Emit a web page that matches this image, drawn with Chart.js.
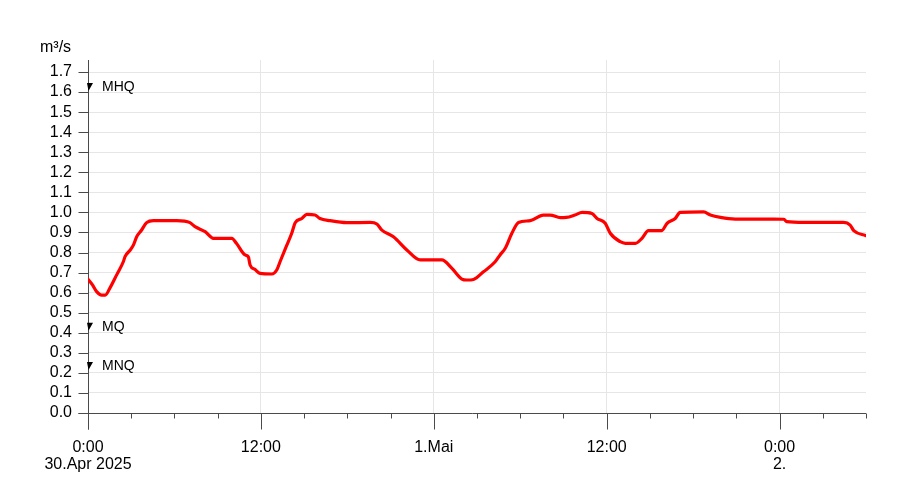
<!DOCTYPE html>
<html><head><meta charset="utf-8">
<script src="https://cdn.jsdelivr.net/npm/chart.js@4"></script>
<style>html,body{margin:0;padding:0;background:#fff}canvas{display:block}</style>
</head><body>
<canvas id="c" width="900" height="496"></canvas>
<script>
// hours since 30.Apr 2025 0:00
const hours = [0,0.3,0.6,0.95,1.2,1.5,2.0,2.45,2.57,2.9,3.15,3.38,3.7,4.07,4.54,6.16,7.08,7.43,8.13,8.7,9.98,10.3,10.9,11.13,11.25,11.6,11.94,12.76,13.1,13.33,13.7,14.14,14.38,14.84,15.19,15.76,16.1,16.8,17.96,19.58,20.05,20.4,21.2,22.13,23.06,24.56,25.26,25.95,26.3,26.76,27.45,28.26,28.6,28.96,29.42,29.88,30.7,31.6,32.08,32.78,33.2,33.8,34.3,34.98,35.33,35.9,36.25,36.94,37.3,38.0,38.45,38.9,39.8,40.2,40.76,41.1,42.73,43.2,43.9,44.93,47.6,48.3,48.5,49.7,52.45,52.9,53.15,54.0];
const flow = [0.667,0.64,0.605,0.588,0.588,0.62,0.69,0.754,0.78,0.81,0.837,0.879,0.91,0.949,0.959,0.959,0.949,0.929,0.904,0.871,0.871,0.846,0.788,0.779,0.738,0.715,0.696,0.693,0.713,0.754,0.82,0.896,0.949,0.97,0.99,0.987,0.97,0.959,0.949,0.95,0.942,0.912,0.879,0.813,0.763,0.763,0.721,0.668,0.663,0.666,0.704,0.754,0.788,0.821,0.896,0.95,0.959,0.987,0.987,0.974,0.975,0.987,1.0,0.995,0.97,0.946,0.896,0.854,0.846,0.846,0.871,0.909,0.909,0.946,0.97,1.0,1.003,0.987,0.975,0.967,0.967,0.966,0.954,0.95,0.95,0.937,0.909,0.884];
const xTickHours = [0,12,24,36,48];
const xTickLabels = [['0:00','30.Apr 2025'],'12:00','1.Mai','12:00',['0:00','2.']];
const yTicks = [0,0.1,0.2,0.3,0.4,0.5,0.6,0.7,0.8,0.9,1.0,1.1,1.2,1.3,1.4,1.5,1.6,1.7];
const markerNames = ['MHQ','MQ','MNQ'];
const markerValues = [1.605,0.41,0.214];
const yUnit = 'm³/s';

const FONT = '"Liberation Sans", Arial, Helvetica, sans-serif';
Chart.defaults.font.family = FONT;
Chart.defaults.color = '#000';

function seg(ctx,x1,y1,x2,y2){ctx.beginPath();ctx.moveTo(x1,y1);ctx.lineTo(x2,y2);ctx.stroke();}

const axesPlugin = {
  id:'axesCustom',
  beforeDatasetsDraw(chart){
    const {ctx, chartArea:a, scales:{x,y}} = chart;
    ctx.save();
    ctx.strokeStyle='#4a4a4a'; ctx.lineWidth=1;
    const x0 = Math.round(x.getPixelForValue(0))+0.5;
    const y0 = Math.round(y.getPixelForValue(0))+0.5;
    seg(ctx,x0,a.top,x0,y0+16);
    seg(ctx,x0-10,y0,a.right,y0);
    y.ticks.forEach(t=>{const py=Math.round(y.getPixelForValue(t.value))+0.5; seg(ctx,x0-10,py,x0,py);});
    x.ticks.forEach(t=>{const px=Math.round(x.getPixelForValue(t.value))+0.5; const len = (Math.round(t.value)%12===0)?16:5; seg(ctx,px,y0,px,y0+len);});
    ctx.restore();
  },
  afterDraw(chart){
    const {ctx, scales:{x,y}} = chart;
    ctx.save();
    const x0 = x.getPixelForValue(0);
    ctx.fillStyle='#000';
    ctx.font='14px '+FONT;
    ctx.textBaseline='middle';
    ctx.textAlign='left';
    markerNames.forEach((n,i)=>{
      const py = y.getPixelForValue(markerValues[i]);
      ctx.beginPath();
      ctx.moveTo(x0-1,py-8);ctx.lineTo(x0+5,py-8);ctx.lineTo(x0+0.5,py);ctx.closePath();ctx.fill();
      ctx.fillText(n,x0+14,py-4);
    });
    ctx.font='16px '+FONT;
    ctx.fillText(yUnit,40,48);
    ctx.restore();
  }
};

new Chart(document.getElementById('c'),{
  type:'line',
  data:{datasets:[{
    data: hours.map((h,i)=>({x:h,y:flow[i]})),
    borderColor:'#ff0000', borderWidth:3.2, pointRadius:0, cubicInterpolationMode:'monotone', fill:false,
    borderJoinStyle:'round', borderCapStyle:'round'
  }]},
  options:{
    responsive:false, animation:false, events:[],
    layout:{padding:{top:60,right:34,left:0,bottom:0}},
    plugins:{legend:{display:false},tooltip:{enabled:false}},
    scales:{
      x:{
        type:'linear', min:0, max:54,
        afterFit:s=>{s.height=83;},
        border:{display:false},
        grid:{drawTicks:true,tickLength:15,tickColor:'transparent',
          color:c=> (c.tick && xTickHours.includes(Math.round(c.tick.value)) && c.tick.value>0) ? '#e6e6e6' : 'transparent'},
        ticks:{stepSize:3, autoSkip:false, maxRotation:0, padding:11,
          font:{size:16,lineHeight:1.05}, color:'#000',
          callback:v=>{const i=xTickHours.indexOf(Math.round(v)); return i>=0?xTickLabels[i]:'';}}
      },
      y:{
        type:'linear', min:0, max:1.76,
        afterFit:s=>{s.width=88;},
        afterBuildTicks:s=>{s.ticks=yTicks.map(v=>({value:v}));},
        border:{display:false},
        grid:{drawTicks:true,tickLength:10,tickColor:'transparent',color:c=>c.tick&&c.tick.value>0?'#e6e6e6':'transparent'},
        ticks:{autoSkip:false, padding:6, font:{size:16}, color:'#000', callback:v=>Number(v).toFixed(1)}
      }
    }
  },
  plugins:[axesPlugin]
});
</script>
</body></html>
